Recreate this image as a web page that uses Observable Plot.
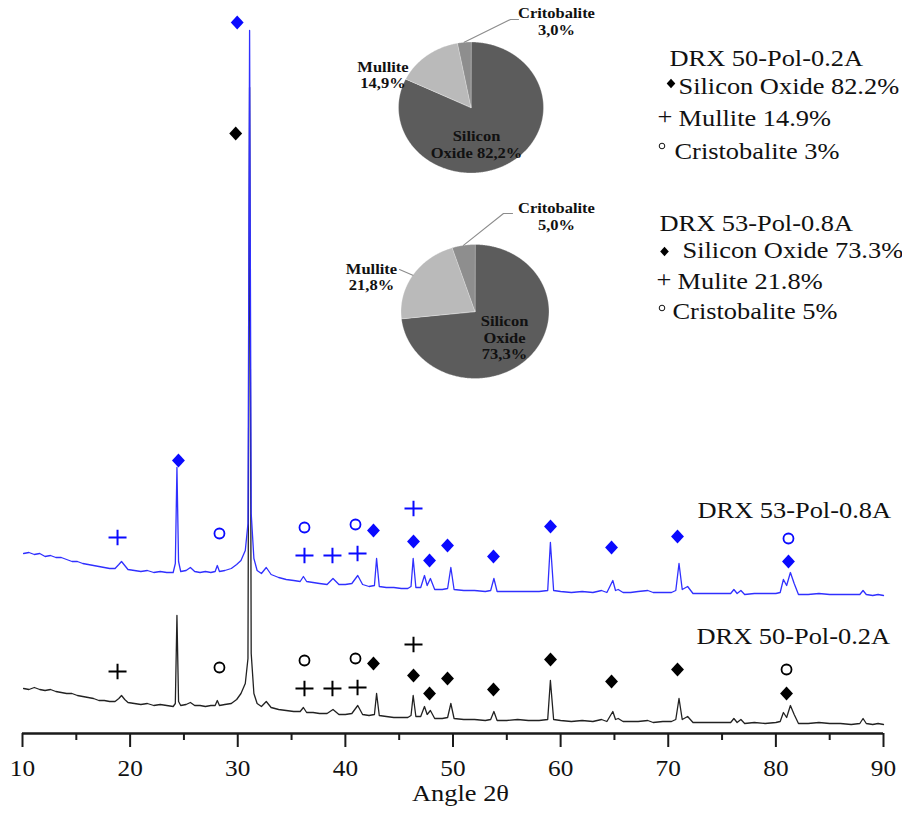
<!DOCTYPE html>
<html><head><meta charset="utf-8">
<script src="https://cdn.jsdelivr.net/npm/d3@7"></script>
<script src="https://cdn.jsdelivr.net/npm/@observablehq/plot@0.6"></script>
<style>
html,body{margin:0;padding:0;background:#fff;}
#wrap{position:relative;width:902px;height:818px;overflow:hidden;background:#fff;}
#wrap > svg{position:absolute;}
#wrap text{font-family:'Liberation Serif','Times New Roman',serif;}
</style></head><body><div id="wrap"></div>
<script>
// ---------------- data ----------------
const sampleNames = ["DRX 50-Pol-0.2A", "DRX 53-Pol-0.8A"];
const xTicks = [10, 20, 30, 40, 50, 60, 70, 80, 90];
const xMinorTicks = [15, 25, 35, 45, 55, 65, 75, 85];
const xLabel = "Angle 2θ";

// diffraction profiles (angle 2θ, intensity a.u.; 53-Pol pattern is shown offset upward)
const angles = [10.1,10.6,11.1,11.6,12.1,12.6,13.1,13.6,14.1,14.6,15.1,15.6,16.1,16.6,17.1,17.6,18.1,18.6,18.95,19.2,19.5,19.8,20.4,21.0,21.6,22.2,22.8,23.4,24.0,24.2,24.35,24.5,24.7,25.2,25.6,26.0,26.5,27.0,27.5,27.9,28.1,28.3,28.8,29.4,29.9,30.3,30.7,30.95,31.1,31.25,31.5,31.8,32.2,32.65,33.1,33.8,34.5,35.2,35.8,36.1,36.4,37.0,37.6,38.3,38.85,39.4,40.0,40.6,41.15,41.6,42.2,42.7,42.9,43.15,43.8,44.5,45.2,45.8,46.1,46.3,46.55,47.0,47.35,47.6,47.9,48.3,49.0,49.5,49.8,50.1,51.0,52.0,53.0,53.5,53.8,54.1,55.0,56.0,57.0,58.0,58.8,59.05,59.35,60.0,61.0,62.0,63.0,63.8,64.3,64.85,65.1,65.35,65.8,66.5,67.2,68.1,68.6,69.5,70.3,70.7,71.0,71.3,71.8,72.3,73.0,74.0,75.0,75.8,76.1,76.4,76.75,77.1,78.0,79.0,80.0,80.4,80.7,81.0,81.35,81.7,82.1,83.0,84.0,85.0,86.0,87.0,87.8,88.1,88.4,89.0,89.5,90.0];
const intensity50 = [45,44,46,44,43,44,42,41,40,40,38,37,36,35,33,33,32,32,35,38,34,31,30,29,30,28,29,28,27,30,118,32,28,29,31,28,28,27,28,28,33,28,29,30,34,40,50,75,646,80,40,30,27,32,26,24,23,22,22,26,21,21,20,20,24,19,19,20,28,19,18,19,40,18,17,16,16,16,18,38,17,17,27,19,23,15,15,16,30,15,14,14,13,14,22,13,13,14,13,13,14,53,14,13,12,13,12,14,12,22,14,15,12,12,12,13,11,12,12,14,35,14,17,11,11,11,11,11,15,11,14,10,11,10,11,12,21,16,28,19,10,10,11,10,10,9,10,15,10,9,10,9];
const intensity53 = [180,181,179,180,177,178,176,176,174,172,172,170,169,168,167,166,165,165,169,172,168,164,163,162,163,161,162,161,161,170,266,172,162,163,166,162,161,162,161,162,168,162,163,165,169,173,183,210,703,220,175,163,160,166,159,156,154,153,152,157,152,151,150,149,155,149,149,150,158,149,147,148,175,147,146,146,145,145,147,175,146,146,158,148,155,144,144,145,166,144,143,143,142,143,155,142,142,142,142,142,143,191,143,142,141,142,141,143,141,153,143,144,141,141,142,143,141,141,141,143,170,144,147,140,140,140,140,140,144,140,143,139,140,140,140,141,154,148,161,150,139,139,140,139,139,139,139,143,139,138,139,138];

// phase markers (angle, intensity)
const dia53Ang = [24.49, 29.95, 42.61, 46.33, 47.82, 49.49, 53.76, 59.06, 64.73, 70.86, 81.17];
const dia53Int = [273, 711, 203, 192, 173, 188, 177, 207, 186, 197, 172];
const plus53Ang = [18.83, 36.20, 38.80, 41.13, 46.33];
const plus53Int = [196, 178, 178, 180, 225];
const circ53Ang = [28.30, 36.20, 40.94, 81.17];
const circ53Int = [200, 206, 209, 195];

const dia50Ang = [29.81, 42.61, 46.33, 47.82, 49.49, 53.76, 59.06, 64.73, 70.86, 80.99];
const dia50Int = [600, 70, 58, 40, 55, 44, 74, 52, 64, 40];
const plus50Ang = [18.83, 36.20, 38.80, 41.13, 46.33];
const plus50Int = [62, 45, 45, 46, 89];
const circ50Ang = [28.30, 36.20, 40.94, 80.99];
const circ50Int = [66, 73, 75, 64];

// phase composition
const legendNames50 = ["Silicon Oxide", "Mullite", "Cristobalite"];
const legendNames53 = ["Silicon Oxide", "Mulite", "Cristobalite"];
const pieNames = ["Silicon Oxide", "Mullite", "Critobalite"];
const share50 = [82.2, 14.9, 3.0];
const share53 = [73.3, 21.8, 5.0];

// ---------------- styling / layout ----------------
const SERIF = "Liberation Serif";
const BLUE_LINE = "#3030ff", BLUE = "#0a0aff", BLACK_LINE = "#222", INK = "#111";
const sliceColors = ["#5c5c5c", "#bababa", "#8e8e8e"];
const ML = 22, MR = 19, MB = 85;
const FS = 24;

const diamondSym = {draw(ctx, size) {const r = Math.sqrt(size / Math.PI); ctx.moveTo(0, -r); ctx.lineTo(0.92 * r, 0); ctx.lineTo(0, r); ctx.lineTo(-0.92 * r, 0); ctx.closePath();}};
const plusSym = {draw(ctx, size) {const r = Math.sqrt(size / Math.PI); ctx.moveTo(-r, 0); ctx.lineTo(r, 0); ctx.moveTo(0, -0.85 * r); ctx.lineTo(0, 0.85 * r);}};
const degreeSym = {draw(ctx, size) {const r = Math.sqrt(size / Math.PI); ctx.moveTo(r, 0); ctx.arc(0, 0, r, 0, 2 * Math.PI);}};

const rows = (angs, ints) => angs.map((a, i) => ({a, v: ints[i]}));
const pat50 = rows(angles, intensity50);
const pat53 = rows(angles, intensity53);

function diamonds(angs, ints, color) {return Plot.dot(rows(angs, ints), {x: "a", y: "v", symbol: diamondSym, r: 7, fill: color, stroke: "none"});}
function pluses(angs, ints, color) {return Plot.dot(rows(angs, ints), {x: "a", y: "v", symbol: plusSym, r: 9, fill: "none", stroke: color, strokeWidth: 2});}
function circles(angs, ints, color) {return Plot.dot(rows(angs, ints), {x: "a", y: "v", symbol: "circle", r: 5, fill: "none", stroke: color, strokeWidth: 1.8});}

function label(txt, xStart, baseline, opts = {}) {
  const fs = opts.fontSize || FS;
  return Plot.text([txt], {frameAnchor: "top-left", dx: xStart - ML, dy: baseline - 0.32 * fs, text: d => d, textAnchor: "start", lineAnchor: "middle", fontSize: fs, fontFamily: SERIF, fill: INK, ...opts});
}
function legendMark(symbol, cx, cy, r, opts) {
  return Plot.dot([0], {frameAnchor: "top-left", dx: cx - ML, dy: cy, symbol, r, ...opts});
}
const pct = v => String(+v.toFixed(1)) + "%";

const main = Plot.plot({
  width: 902, height: 818,
  marginLeft: ML, marginRight: MR, marginTop: 0, marginBottom: MB,
  x: {domain: [10, 90], label: null},
  y: {domain: [0, 733], axis: null, label: null},
  style: {fontFamily: SERIF, background: "transparent", color: INK, overflow: "visible"},
  marks: [
    Plot.line(pat50, {x: "a", y: "v", stroke: BLACK_LINE, strokeWidth: 1.3}),
    Plot.line(pat53, {x: "a", y: "v", stroke: BLUE_LINE, strokeWidth: 1.3}),
    diamonds(dia53Ang, dia53Int, BLUE),
    pluses(plus53Ang, plus53Int, BLUE),
    circles(circ53Ang, circ53Int, BLUE),
    diamonds(dia50Ang, dia50Int, "#000"),
    pluses(plus50Ang, plus50Int, "#000"),
    circles(circ50Ang, circ50Int, "#000"),
    Plot.ruleY([0], {stroke: "#1a1a1a", strokeWidth: 2.5}),
    Plot.axisX({ticks: xTicks, tickSize: 14, tickPadding: 12, strokeWidth: 2, stroke: "#1a1a1a", fontSize: 23, fontFamily: SERIF, fill: INK, tickFormat: d => String(d), label: null}),
    Plot.axisX({ticks: xMinorTicks, tickSize: 7, strokeWidth: 2, stroke: "#1a1a1a", tickFormat: () => "", label: null}),
    Plot.text([xLabel], {frameAnchor: "bottom", dx: 7.5, dy: 800 - 733 - 0.32 * FS, text: d => d, lineAnchor: "middle", fontSize: FS, fontFamily: SERIF, fill: INK}),
    // curve labels
    label(sampleNames[1], 697, 517),
    label(sampleNames[0], 696, 643),
    // legend block 1
    label(sampleNames[0], 669, 65),
    legendMark(diamondSym, 670.5, 83, 4.7, {fill: "#000"}),
    label(`${legendNames50[0]} ${pct(share50[0])}`, 678, 93),
    label(`+`, 657, 123),
    label(`${legendNames50[1]} ${pct(share50[1])}`, 678, 125),
    legendMark(degreeSym, 661.5, 145.5, 2.8, {fill: "none", stroke: "#111", strokeWidth: 1}),
    label(`${legendNames50[2]} ${pct(share50[2])}`, 674, 158),
    // legend block 2
    label(sampleNames[1], 659, 230),
    legendMark(diamondSym, 664, 251, 4.7, {fill: "#000"}),
    label(`${legendNames53[0]} ${pct(share53[0])}`, 682, 257),
    label(`+`, 656, 286),
    label(`${legendNames53[1]} ${pct(share53[1])}`, 677, 288),
    legendMark(degreeSym, 661.5, 307.5, 2.8, {fill: "none", stroke: "#111", strokeWidth: 1}),
    label(`${legendNames53[2]} ${pct(share53[2])}`, 672, 318)
  ]
});

// ---------------- pie charts ----------------
const pieFmt = v => v.toFixed(1).replace(".", ",") + "%";
function piePlot(values, texts, g) {
  const arcs = d3.pie().sort(null)(values);
  const marks = [];
  arcs.forEach((arc, i) => {
    const pts = [{x: 0, y: 0}];
    const n = Math.max(2, Math.ceil((arc.endAngle - arc.startAngle) / 0.01));
    for (let k = 0; k <= n; k++) {
      const t = arc.startAngle + (arc.endAngle - arc.startAngle) * k / n;
      pts.push({x: Math.sin(t), y: Math.cos(t)});
    }
    marks.push(Plot.line(pts, {x: "x", y: "y", curve: "linear-closed", fill: sliceColors[i], stroke: "#ffffff", strokeWidth: 0.6, strokeOpacity: 0.5}));
  });
  g.leaders.forEach(ld => {
    const arc = arcs[ld.slice];
    const m = (arc.startAngle + arc.endAngle) / 2;
    const pts = [{x: Math.sin(m), y: Math.cos(m)}, ...ld.pts.map(([x, y]) => ({x, y}))];
    marks.push(Plot.line(pts, {x: "x", y: "y", stroke: "#8c8c8c", strokeWidth: 1.1}));
  });
  marks.push(Plot.text(texts.map((t, i) => ({t, x: g.labels[i][0], y: g.labels[i][1]})), {
    x: "x", y: "y", text: "t", fontWeight: "bold", fontSize: 15, fontFamily: SERIF, lineHeight: 1.1, textAnchor: "middle", lineAnchor: "middle", fill: "#111"
  }));
  const svg = Plot.plot({
    width: g.w, height: g.h, margin: 0,
    x: {domain: [-1, 1], range: [g.cx - g.rx, g.cx + g.rx], axis: null},
    y: {domain: [-1, 1], range: [g.cy + g.ry, g.cy - g.ry], axis: null},
    style: {fontFamily: SERIF, background: "transparent", overflow: "visible"},
    marks
  });
  svg.style.left = g.left + "px";
  svg.style.top = g.top + "px";
  return svg;
}

const pie1 = piePlot(share50, [
  `Silicon\nOxide ${pieFmt(share50[0])}`, `${pieNames[1]}\n${pieFmt(share50[1])}`, `${pieNames[2]}\n${pieFmt(share50[2])}`
], {left: 340, top: 0, w: 270, h: 195, cx: 130.5, cy: 107, rx: 72.5, ry: 65.5,
  labels: [[0.076, -0.557], [-1.214, 0.504], [1.179, 1.321]],
  leaders: [{slice: 2, pts: [[0.545, 1.344], [0.655, 1.344]]}]});

const pie2 = piePlot(share53, [
  `Silicon\nOxide\n${pieFmt(share53[0])}`, `${pieNames[1]}\n${pieFmt(share53[1])}`, `${pieNames[2]}\n${pieFmt(share53[2])}`
], {left: 340, top: 195, w: 270, h: 195, cx: 134.5, cy: 116, rx: 74, ry: 67,
  labels: [[0.399, -0.388], [-1.399, 0.522], [1.101, 1.425]],
  leaders: [{slice: 2, pts: [[0.385, 1.463], [0.507, 1.463]]}, {slice: 1, pts: [[-1.02, 0.627]]}]});

main.style.left = "0px"; main.style.top = "0px";
const wrap = document.getElementById("wrap");
wrap.append(main, pie1, pie2);

// the original figure is stretched horizontally: widen glyphs about their anchors
wrap.querySelectorAll("text").forEach(t => {
  const tr = t.getAttribute("transform");
  if (tr) t.setAttribute("transform", tr + " scale(1.1,1)");
});
</script>
</body></html>
